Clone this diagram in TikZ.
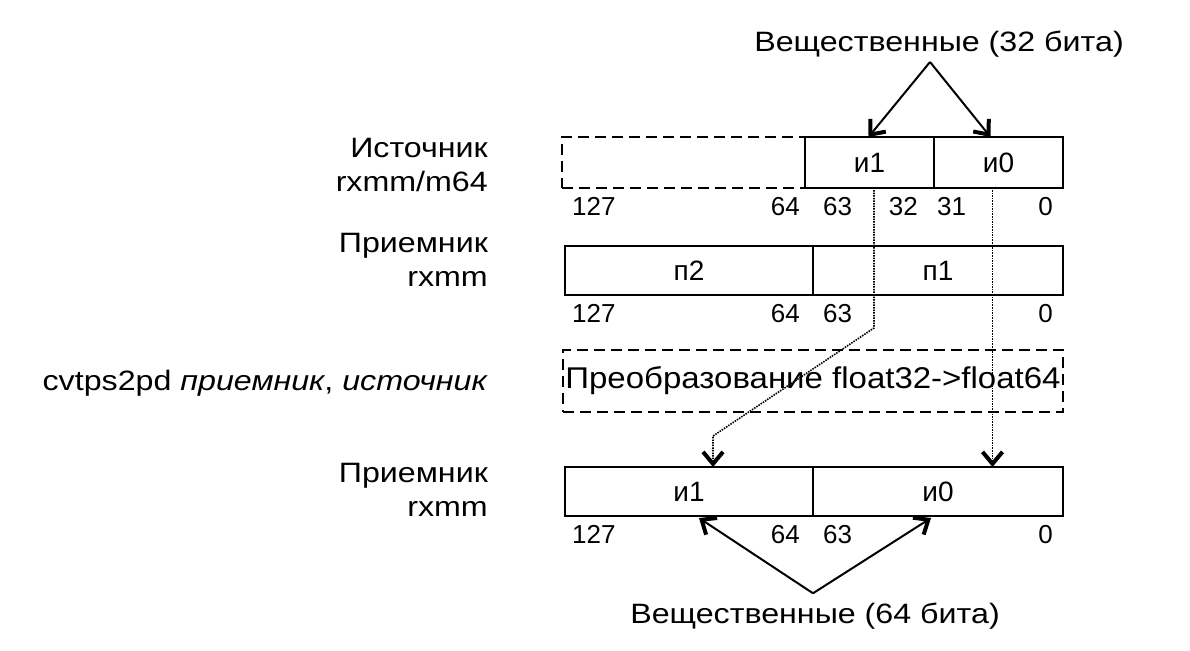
\documentclass[tikz,border=0pt]{standalone}
\usepackage{fontspec}
\setmainfont{Liberation Sans}
\newfontfamily\widesans{Liberation Sans}[FakeStretch=1.15]
\newfontfamily\convsans{Liberation Sans}[FakeStretch=1.1]
\usetikzlibrary{positioning,arrows.meta}

\tikzset{
  lbl/.style={inner sep=0pt,font=\widesans\fontsize{28}{34}\selectfont},
  bit/.style={inner sep=0pt,font=\fontsize{26}{30}\selectfont},
  reg/.style={draw,line width=1.3pt,inner sep=0pt,outer sep=0pt,
    minimum height=50pt,font=\fontsize{28}{34}\selectfont},
  regdash/.style={reg,line width=2.2pt,dash pattern=on 11pt off 6pt},
  barb/.style={-{Straight Barb[length=12pt,width=20pt,line width=4pt]}},
  flow/.style={barb,line width=1.6pt,dash pattern=on 1.5pt off 1.1pt},
  pick/.style={barb,line width=2pt}
}

\begin{document}
\begin{tikzpicture}[x=1pt,y=-1pt]
  \useasboundingbox (0,0) rectangle (1190,650);

  % source register
  \node[regdash,minimum width=243pt,minimum height=51pt,anchor=north west] (srcx) at (562,137) {};
  \node[reg,minimum width=129pt,minimum height=51pt,right=0pt of srcx] (src1) {и1};
  \node[reg,minimum width=129pt,minimum height=51pt,right=0pt of src1] (src0) {и0};
  \node[bit,below right=9pt and 10pt of srcx.south west] (s127) {127};
  \node[bit,below left=9pt and 5pt of srcx.south east]   (s64)  {64};
  \node[bit,below right=9pt and 18pt of src1.south west] (s63)  {63};
  \node[bit,below left=9pt and 16pt of src1.south east]  (s32)  {32};
  \node[bit,below right=9pt and 3pt of src0.south west]  (s31)  {31};
  \node[bit,below left=9pt and 10pt of src0.south east]  (s0)   {0};

  % destination before
  \node[reg,minimum width=248pt,minimum height=49pt,anchor=north west] (dst1h) at (565,246) {п2};
  \node[reg,minimum width=250pt,minimum height=49pt,right=0pt of dst1h] (dst1l) {п1};
  \node[bit,below right=9pt and 7pt of dst1h.south west] (d127) {127};
  \node[bit,below left=9pt and 13pt of dst1h.south east] (d64)  {64};
  \node[bit,below right=9pt and 10pt of dst1l.south west] (d63) {63};
  \node[bit,below left=9pt and 10pt of dst1l.south east] (d0)   {0};

  % conversion
  \node[regdash,minimum width=500pt,minimum height=62pt,anchor=north west,
        font=\convsans\fontsize{30}{34}\selectfont] (conv) at (563,350) {Преобразование float32->float64};

  % destination after
  \node[reg,minimum width=248pt,minimum height=49pt,anchor=north west] (dst2h) at (565,467) {и1};
  \node[reg,minimum width=250pt,minimum height=49pt,right=0pt of dst2h] (dst2l) {и0};
  \node[bit,below right=9pt and 7pt of dst2h.south west] (e127) {127};
  \node[bit,below left=9pt and 13pt of dst2h.south east] (e64)  {64};
  \node[bit,below right=9pt and 10pt of dst2l.south west] (e63) {63};
  \node[bit,below left=9pt and 10pt of dst2l.south east] (e0)   {0};

  % left captions
  \node[lbl,anchor=north east,align=right] (srclbl)  at (488,138) {Источник\\rxmm/m64};
  \node[lbl,anchor=north east,align=right] (dst1lbl) at (488,233) {Приемник\\rxmm};
  \node[lbl,anchor=base east]              (cvtlbl)  at (488,390) {cvtps2pd \textit{приемник}, \textit{источник}};
  \node[lbl,anchor=north east,align=right] (dst2lbl) at (488,463) {Приемник\\rxmm};

  % data types
  \node[lbl,anchor=base] (real32) at (939,52)  {Вещественные (32 бита)};
  \node[lbl,anchor=base] (real64) at (815,623) {Вещественные (64 бита)};
  \coordinate[below left=4pt and 9pt of real32.south] (fork32);
  \coordinate[above left=9pt and 2pt of real64.north] (fork64);
  \draw[pick] (fork32) -- ([xshift=-1pt]src1.north);
  \draw[pick] (fork32) -- ([xshift=-8pt]src0.north);
  \draw[pick] (fork64) -- ([xshift=10pt,yshift=-2pt]dst2h.south);
  \draw[pick] (fork64) -- ([xshift=-7pt,yshift=-2pt]dst2l.south);

  % data flow
  \coordinate (tap1) at ([xshift=4.5pt,yshift=-2pt]src1.south);
  \coordinate (tap0) at ([xshift=-6pt,yshift=-2pt]src0.south);
  \coordinate (land1) at ([xshift=24pt]dst2h.north);
  \draw[flow] (tap1) -- ++(0,138) -- ([yshift=31pt]land1) -- (land1);
  \draw[flow] (tap0) -- (tap0 |- dst2l.north);
\end{tikzpicture}
\end{document}
